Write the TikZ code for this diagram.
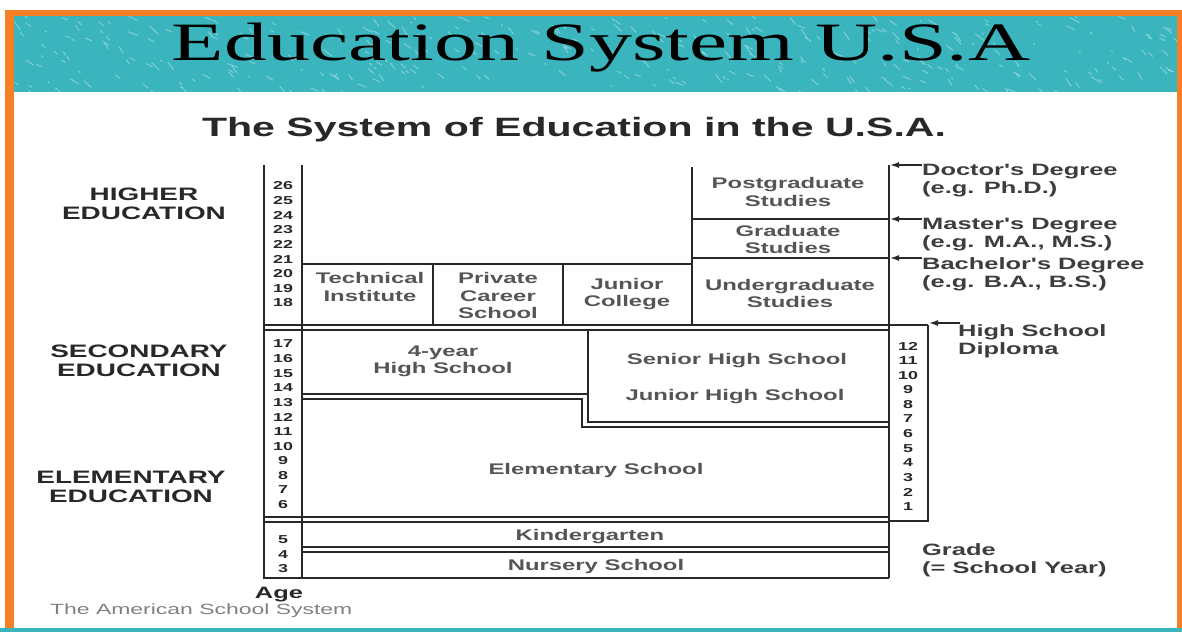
\documentclass[tikz,border=0pt]{standalone}
\usepackage{fontspec}
\setmainfont{Liberation Sans}
\newfontfamily\sw[FakeStretch=1.55]{Liberation Sans}
\newfontfamily\tw[FakeStretch=1.59]{Liberation Serif}
\usetikzlibrary{arrows.meta}
\definecolor{orng}{RGB}{246,128,38}
\definecolor{tealbg}{RGB}{58,181,190}
\definecolor{lbl}{RGB}{85,85,85}
\definecolor{ink}{RGB}{40,40,40}
\tikzset{
  thickln/.style={line width=2.6pt, draw=ink},
  thinln/.style={line width=1.5pt, draw=ink},
  lab/.style={font=\sw\bfseries\fontsize{15.4}{17.5}\selectfont, text=lbl, align=center, inner sep=0pt},
  head/.style={font=\sw\bfseries\fontsize{18}{18.8}\selectfont, text=ink, align=center, inner sep=0pt},
  deg/.style={font=\sw\bfseries\fontsize{16.4}{18}\selectfont, text=ink!90, align=left, anchor=west, inner sep=0pt},
  num/.style={font=\sw\bfseries\fontsize{11.5}{12}\selectfont, text=ink, inner sep=0pt},
  arr/.style={line width=1.5pt, draw=ink, -{Latex[length=9pt,width=6pt]}}
}
\begin{document}
\begin{tikzpicture}[x=1pt,y=-1pt]
\useasboundingbox (0,0) rectangle (1182,632);
\fill[white] (0,0) rectangle (1182,632);
% banner
\fill[tealbg] (14,16) rectangle (1177,92);
\begin{scope}
\clip (14,16) rectangle (1177,92);
\pgfmathsetseed{11}
\foreach \i in {1,...,340}{
  \pgfmathsetmacro\xx{14+rnd*1163}
  \pgfmathsetmacro\yy{16+rnd*76}
  \pgfmathsetmacro\aa{20+rnd*40}
  \pgfmathsetmacro\ll{2+rnd*9}
  \draw[white, opacity=0.35, line width=1pt] (\xx,\yy) -- ++(\aa:\ll);
}
\end{scope}
\fill[tealbg] (0,628) rectangle (1182,632);
% orange frame
\fill[orng] (5,10) rectangle (1182,16);
\fill[orng] (5,10) rectangle (14,628);
\fill[orng] (1177,10) rectangle (1182,628);
% titles
\node[font=\tw\fontsize{54}{54}\selectfont, anchor=base, inner sep=0pt] (title) at (601,60) {Education System U.S.A};
\node[font=\sw\bfseries\fontsize{26.5}{27}\selectfont, text=ink, inner sep=0pt] (sub) at (574,130) {The System of Education in the U.S.A.};
% headings
\node[head] (hHigh) at (144,204) {HIGHER\\EDUCATION};
\node[head] (hSec) at (139,361) {SECONDARY\\EDUCATION};
\node[head] (hElem) at (131,487) {ELEMENTARY\\EDUCATION};
% main frame lines
\draw[thickln] (264,165) -- (264,578) -- (889,578);
\draw[thickln] (302,165) -- (302,578);
\draw[thickln] (889,165) -- (889,578);
\draw[thickln] (928,325) -- (928,521) -- (889,521);
% higher education
\draw[thinln] (692,167) -- (692,325);
\draw[thinln] (692,219) -- (889,219);
\draw[thinln] (692,258) -- (889,258);
\draw[thinln] (302,264) -- (692,264);
\draw[thinln] (433,264) -- (433,325);
\draw[thickln] (563,264) -- (563,325);
% double line higher/secondary
\draw[thinln] (264,325) -- (928,325);
\draw[thinln] (264,330) -- (889,330);
% secondary
\draw[thinln] (588,330) -- (588,422) -- (889,422);
\draw[thinln] (302,394) -- (588,394);
\draw[thinln] (302,399) -- (582,399) -- (582,427) -- (889,427);
% elementary / kindergarten
\draw[thinln] (264,517) -- (889,517);
\draw[thinln] (264,522) -- (889,522);
\draw[thinln] (302,547) -- (889,547);
\draw[thinln] (302,552) -- (889,552);
% box labels
\node[lab] (post) at (788,192) {Postgraduate\\Studies};
\node[lab] (grad) at (788,239.5) {Graduate\\Studies};
\node[lab] (under) at (790,293.5) {Undergraduate\\Studies};
\node[lab] (tech) at (370,287) {Technical\\Institute};
\node[lab] (priv) at (498,295.5) {Private\\Career\\School};
\node[lab] (junc) at (627,294) {Junior\\College};
\node[lab] (four) at (443,361.5) {4-year\\High School};
\node[lab] (senior) at (737,361) {Senior High School};
\node[lab] (junior) at (735,397) {Junior High School};
\node[lab] (elem) at (596,471) {Elementary School};
\node[lab] (kind) at (590,537) {Kindergarten};
\node[lab] (nurs) at (596,567) {Nursery School};
% age numbers
\foreach \n in {26,25,...,18}{\node[num] (age\n) at (283,{186+(26-\n)*14.6}) {\n};}
\foreach \n in {17,16,...,6}{\node[num] (age\n) at (283,{344+(17-\n)*14.6}) {\n};}
\foreach \n in {5,4,3}{\node[num] (age\n) at (283,{540+(5-\n)*14.5}) {\n};}
% grade numbers
\foreach \n in {12,11,...,1}{\node[num] (gr\n) at (908,{346+(12-\n)*14.6}) {\n};}
% degree labels
\node[deg] (doc) at (922,181) {Doctor's Degree\\(e.g. Ph.D.)};
\node[deg] (mas) at (922,235) {Master's Degree\\(e.g. M.A., M.S.)};
\node[deg] (bac) at (922,274) {Bachelor's Degree\\(e.g. B.A., B.S.)};
\node[deg] (hsd) at (958,341.5) {High School\\Diploma};
\node[deg] (grade) at (922,560) {Grade\\(= School Year)};
% arrows
\coordinate (docA) at (922,165);
\coordinate (docB) at (890,165);
\coordinate (masA) at (922,219);
\coordinate (masB) at (890,219);
\coordinate (bacA) at (922,258);
\coordinate (bacB) at (890,258);
\coordinate (hsdA) at (960,323);
\coordinate (hsdB) at (929,323);
\draw[arr] (docA) -- (docB);
\draw[arr] (masA) -- (masB);
\draw[arr] (bacA) -- (bacB);
\draw[arr] (hsdA) -- (hsdB);
% bottom texts
\node[font=\sw\bfseries\fontsize{16.4}{17}\selectfont, text=ink, inner sep=0pt] (age) at (279,595) {Age};
\node[font=\sw\fontsize{14.8}{15}\selectfont, text=black!50, anchor=west, inner sep=0pt] (foot) at (50,611) {The American School System};
\end{tikzpicture}
\end{document}
